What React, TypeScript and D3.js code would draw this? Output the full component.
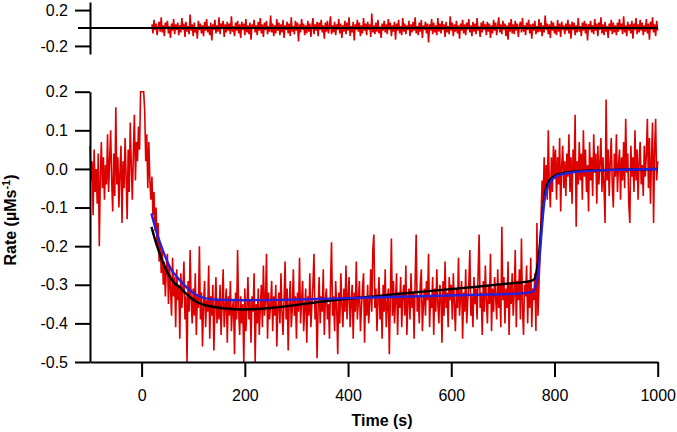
import React, { useEffect, useRef } from "react";
import * as d3 from "d3";

// sampled trace: one value every 2 s from -100 s to 1000 s
const tStart = -100;
const tStep = 2;
const rate = [
  0.06, -0.03, 0.02, -0.12, 0.05, -0.06, 0.0, -0.09, 0.04, -0.2, -0.02, 0.07, -0.05, 0.03, -0.08, 0.01, -0.04, 0.09, -0.06, 0.02, 0.1, -0.03, -0.11, 0.04, -0.07,
  0.16, -0.04, 0.03, -0.1, -0.01, 0.06, -0.14, 0.02, -0.05, 0.08, -0.02, -0.13, 0.05, -0.06, 0.12, 0.01, -0.08, 0.04, 0.14, -0.03, 0.07, 0.02, 0.11, 0.05, 0.2,
  0.2, 0.2, 0.2, 0.15, 0.02, 0.09, -0.05, 0.07, -0.03, -0.08, -0.02, -0.12, -0.06, -0.16, -0.1, -0.2, -0.14, -0.24, -0.19, -0.27, -0.21, -0.3, -0.24, -0.33, -0.26,
  -0.22, -0.35, -0.25, -0.31, -0.38, -0.23, -0.33, -0.28, -0.41, -0.26, -0.34, -0.3, -0.44, -0.27, -0.36, -0.31, -0.24, -0.39, -0.33, -0.5, -0.29, -0.37, -0.21, -0.34, -0.4,
  -0.31, -0.38, -0.27, -0.43, -0.33, -0.36, -0.2, -0.39, -0.32, -0.46, -0.35, -0.29, -0.41, -0.34, -0.37, -0.25, -0.44, -0.33, -0.38, -0.3, -0.47, -0.36, -0.28, -0.4, -0.34,
  -0.39, -0.3, -0.43, -0.35, -0.26, -0.41, -0.36, -0.31, -0.45, -0.33, -0.38, -0.29, -0.42, -0.36, -0.34, -0.48, -0.32, -0.39, -0.21, -0.37, -0.43, -0.33, -0.4, -0.35, -0.5,
  -0.31, -0.42, -0.36, -0.28, -0.39, -0.34, -0.45, -0.33, -0.37, -0.27, -0.5, -0.35, -0.4, -0.31, -0.43, -0.36, -0.3, -0.41, -0.25, -0.38, -0.34, -0.22, -0.44, -0.32, -0.39,
  -0.35, -0.29, -0.42, -0.33, -0.38, -0.3, -0.46, -0.36, -0.32, -0.4, -0.27, -0.37, -0.43, -0.34, -0.24, -0.39, -0.31, -0.47, -0.35, -0.29, -0.41, -0.36, -0.26, -0.38, -0.33,
  -0.44, -0.32, -0.37, -0.23, -0.4, -0.34, -0.29, -0.42, -0.36, -0.31, -0.45, -0.33, -0.38, -0.27, -0.41, -0.35, -0.3, -0.22, -0.39, -0.34, -0.49, -0.36, -0.28, -0.4, -0.33,
  -0.37, -0.26, -0.43, -0.34, -0.31, -0.39, -0.35, -0.44, -0.3, -0.19, -0.38, -0.33, -0.42, -0.29, -0.36, -0.48, -0.32, -0.4, -0.27, -0.35, -0.41, -0.31, -0.37, -0.25, -0.39,
  -0.33, -0.28, -0.41, -0.35, -0.3, -0.44, -0.32, -0.37, -0.24, -0.39, -0.34, -0.29, -0.42, -0.36, -0.31, -0.27, -0.45, -0.33, -0.38, -0.3, -0.4, -0.35, -0.26, -0.37, -0.21,
  -0.17, -0.36, -0.31, -0.42, -0.34, -0.28, -0.39, -0.33, -0.44, -0.3, -0.37, -0.26, -0.41, -0.35, -0.31, -0.48, -0.33, -0.18, -0.38, -0.29, -0.4, -0.34, -0.27, -0.43, -0.32,
  -0.36, -0.28, -0.41, -0.33, -0.3, -0.38, -0.25, -0.43, -0.34, -0.31, -0.39, -0.27, -0.36, -0.32, -0.44, -0.29, -0.17, -0.37, -0.33, -0.4, -0.3, -0.26, -0.42, -0.35, -0.31,
  -0.38, -0.29, -0.34, -0.22, -0.41, -0.33, -0.36, -0.28, -0.43, -0.31, -0.37, -0.26, -0.35, -0.4, -0.3, -0.33, -0.45, -0.29, -0.38, -0.24, -0.36, -0.32, -0.41, -0.28, -0.34,
  -0.3, -0.39, -0.27, -0.35, -0.42, -0.31, -0.36, -0.23, -0.38, -0.33, -0.29, -0.44, -0.32, -0.37, -0.26, -0.4, -0.34, -0.3, -0.21, -0.38, -0.33, -0.41, -0.28, -0.35, -0.31,
  -0.39, -0.27, -0.17, -0.36, -0.32, -0.43, -0.29, -0.37, -0.25, -0.34, -0.4, -0.3, -0.35, -0.22, -0.42, -0.31, -0.37, -0.28, -0.33, -0.39, -0.26, -0.36, -0.3, -0.41, -0.15,
  -0.34, -0.28, -0.4, -0.31, -0.36, -0.24, -0.43, -0.3, -0.35, -0.27, -0.38, -0.32, -0.21, -0.41, -0.29, -0.34, -0.26, -0.39, -0.18, -0.36, -0.43, -0.3, -0.33, -0.25, -0.4,
  -0.29, -0.36, -0.23, -0.41, -0.31, -0.34, -0.27, -0.42, -0.14, -0.38, -0.3, -0.22, -0.12, -0.03, -0.09, 0.03, -0.06, 0.01, -0.08, 0.1, -0.04, -0.1, 0.03, -0.06, 0.06,
  -0.02, 0.05, -0.08, 0.03, -0.04, 0.08, -0.11, 0.01, 0.06, -0.05, 0.02, -0.07, 0.04, -0.02, 0.09, -0.06, 0.03, -0.09, 0.05, -0.01, 0.14, -0.15, 0.02, -0.04, 0.07,
  -0.03, 0.04, -0.08, 0.1, -0.02, 0.05, -0.06, 0.01, -0.11, 0.07, -0.03, 0.03, -0.07, 0.09, -0.01, 0.04, -0.09, 0.06, -0.04, 0.02, 0.08, -0.06, 0.03, -0.05, -0.14,
  0.18, -0.03, 0.05, -0.07, 0.02, 0.08, -0.04, -0.1, 0.04, -0.02, 0.09, -0.06, 0.01, 0.05, -0.08, 0.03, -0.03, 0.07, -0.05, 0.13, -0.01, 0.04, -0.09, -0.14, 0.06,
  -0.02, 0.03, -0.06, 0.1, -0.03, 0.05, -0.08, 0.02, 0.07, -0.04, 0.01, -0.07, 0.06, -0.02, 0.04, 0.13, -0.05, 0.08, -0.09, 0.03, 0.12, -0.14, 0.05, 0.13, -0.03,
  0.02,
];

// residuals of the fit, one value every 2 s from 20 s to 1000 s
const resStart = 20;
const residual = [
  0.04, -0.06, 0.09, -0.02, 0.05, -0.08, 0.01, 0.07, -0.04, 0.12, -0.05, 0.03, -0.09, 0.06, -0.01, 0.08, -0.06, 0.02, -0.11, 0.05, -0.03, 0.1, -0.07, 0.04, -0.02,
  0.06, -0.08, 0.03, -0.05, 0.11, -0.02, 0.05, -0.1, 0.07, -0.04, 0.02, -0.07, 0.15, -0.03, 0.04, -0.09, 0.06, -0.05, 0.01, -0.12, 0.08, -0.02, 0.05, -0.06, 0.03,
  -0.09, 0.07, -0.03, 0.1, -0.05, 0.02, -0.08, 0.06, -0.14, 0.04, -0.02, 0.09, -0.06, 0.03, -0.04, 0.12, -0.07, 0.05, -0.01, 0.08, -0.1, 0.04, -0.05, 0.07, -0.03,
  0.05, -0.07, 0.13, -0.04, 0.02, -0.09, 0.06, -0.03, 0.08, -0.06, 0.04, -0.11, 0.07, -0.02, 0.05, -0.08, 0.1, -0.05, 0.03, -0.07, 0.06, -0.13, 0.04, -0.01, 0.09,
  -0.05, 0.03, -0.08, 0.07, -0.03, 0.11, -0.06, 0.04, -0.1, 0.06, -0.02, 0.08, -0.07, 0.02, -0.04, 0.14, -0.05, 0.05, -0.09, 0.03, -0.06, 0.1, -0.03, 0.06, -0.08,
  0.04, -0.05, 0.09, -0.11, 0.03, -0.02, 0.07, -0.06, 0.05, -0.09, 0.12, -0.04, 0.02, -0.07, 0.08, -0.03, 0.06, -0.15, 0.04, -0.05, 0.1, -0.02, 0.05, -0.08, 0.03,
  -0.06, 0.08, -0.04, 0.05, -0.1, 0.02, 0.11, -0.07, 0.04, -0.03, 0.07, -0.09, 0.06, -0.02, 0.09, -0.05, 0.03, -0.12, 0.06, -0.04, 0.08, -0.06, 0.02, 0.13, -0.07,
  0.03, -0.05, 0.07, -0.08, 0.04, -0.02, 0.1, -0.06, 0.05, -0.11, 0.03, -0.04, 0.08, -0.07, 0.06, -0.03, 0.12, -0.09, 0.02, -0.05, 0.07, -0.14, 0.04, -0.02, 0.09,
  -0.04, 0.06, -0.09, 0.03, -0.06, 0.11, -0.03, 0.05, -0.08, 0.07, -0.02, 0.04, -0.1, 0.16, -0.05, 0.03, -0.07, 0.06, -0.04, 0.09, -0.06, 0.02, -0.11, 0.05, -0.03,
  0.08, -0.05, 0.04, -0.07, 0.1, -0.02, 0.06, -0.09, 0.03, -0.04, 0.07, -0.13, 0.05, -0.03, 0.09, -0.06, 0.02, -0.08, 0.11, -0.04, 0.05, -0.07, 0.03, -0.02, 0.08,
  -0.09, 0.04, -0.05, 0.07, -0.03, 0.12, -0.06, 0.02, -0.08, 0.06, -0.04, 0.09, -0.11, 0.03, -0.02, 0.07, -0.06, 0.05, -0.16, 0.04, -0.03, 0.1, -0.07, 0.06, -0.05,
  0.03, -0.08, 0.11, -0.04, 0.05, -0.06, 0.08, -0.02, 0.04, -0.1, 0.07, -0.05, 0.02, -0.07, 0.13, -0.03, 0.06, -0.09, 0.04, -0.04, 0.08, -0.06, 0.03, -0.12, 0.05,
  -0.03, 0.09, -0.06, 0.04, -0.08, 0.06, -0.02, 0.1, -0.05, 0.03, -0.09, 0.07, -0.04, 0.05, -0.07, 0.11, -0.03, 0.02, -0.1, 0.06, -0.05, 0.08, -0.02, 0.04, -0.08,
  0.07, -0.04, 0.05, -0.11, 0.03, -0.06, 0.09, -0.03, 0.06, -0.08, 0.02, 0.12, -0.05, 0.04, -0.07, 0.08, -0.02, 0.05, -0.09, 0.03, -0.13, 0.06, -0.04, 0.1, -0.06,
  0.04, -0.07, 0.08, -0.03, 0.05, -0.1, 0.02, 0.07, -0.05, 0.11, -0.04, 0.03, -0.08, 0.06, -0.02, 0.09, -0.06, 0.04, -0.12, 0.05, -0.03, 0.08, -0.07, 0.02, -0.05,
  0.1, -0.04, 0.06, -0.09, 0.03, -0.05, 0.14, -0.02, 0.05, -0.07, 0.04, -0.11, 0.08, -0.03, 0.06, -0.06, 0.02, -0.08, 0.09, -0.04, 0.05, -0.1, 0.07, -0.02, 0.03,
  -0.07, 0.05, -0.03, 0.09, -0.06, 0.04, -0.12, 0.07, -0.02, 0.06, -0.08, 0.03, -0.05, 0.11, -0.04, 0.02, -0.09, 0.06, -0.03, 0.08, -0.06, 0.05, -0.14, 0.04, -0.02,
  0.08, -0.05, 0.03, -0.07, 0.1, -0.03, 0.05, -0.09, 0.06, -0.02, 0.12, -0.06, 0.04, -0.08, 0.07, -0.04, 0.02, -0.11, 0.05, -0.03, 0.09, -0.07, 0.06, -0.05, 0.03,
  -0.08, 0.06, -0.04, 0.1, -0.02, 0.05, -0.07, 0.13, -0.05, 0.03, -0.09, 0.07, -0.03, 0.04, -0.06, 0.08, -0.12, 0.05, -0.02, 0.11, -0.07, 0.04, -0.05, 0.09, -0.03,
  0.06, -0.08, 0.03, -0.04, 0.1, -0.06, 0.05, -0.13, 0.07, -0.02, 0.12, -0.05, 0.04, -0.09, 0.08, -0.03,
];

// fit curves (knots)
const blackFitT = [19, 30, 42, 50, 60, 74, 80, 106, 138, 160, 200, 250, 300, 365, 450, 550, 650, 694, 755, 762, 766, 770, 774, 778, 782, 790, 805, 830, 870, 930, 1000];
const blackFitV = [-0.15, -0.2, -0.244, -0.268, -0.29, -0.307, -0.315, -0.344, -0.357, -0.361, -0.364, -0.36, -0.352, -0.341, -0.33, -0.317, -0.305, -0.299, -0.29, -0.284, -0.26, -0.22, -0.16, -0.1, -0.06, -0.03, -0.015, -0.008, -0.004, -0.002, 0];
const blueFitT = [19, 30, 42, 55, 74, 90, 106, 138, 200, 268, 365, 500, 650, 740, 758, 763, 767, 770, 774, 778, 782, 791, 805, 830, 870, 930, 1000];
const blueFitV = [-0.115, -0.168, -0.214, -0.255, -0.288, -0.31, -0.326, -0.338, -0.34, -0.339, -0.336, -0.331, -0.326, -0.322, -0.318, -0.305, -0.28, -0.25, -0.18, -0.115, -0.07, -0.037, -0.018, -0.01, -0.005, -0.002, 0];

const xTicks = [0, 200, 400, 600, 800, 1000];
const yTicks = [0.2, 0.1, 0.0, -0.1, -0.2, -0.3, -0.4, -0.5];
const resTicks = [0.2, -0.2];

const FONT = "'Liberation Sans', Arial, Helvetica, sans-serif";
const RED = "#dd0000";
const BLUE = "#2a1fd6";

export default function App() {
  const xAxisRef = useRef<SVGGElement>(null);
  const yAxisRef = useRef<SVGGElement>(null);
  const rAxisRef = useRef<SVGGElement>(null);

  const x = d3.scaleLinear().domain([-100, 1000]).range([90, 657.7]);
  const y = d3.scaleLinear().domain([-0.5, 0.2]).range([362, 91.7]);
  const yr = d3.scaleLinear().domain([-0.29, 0.29]).range([54, 2]);

  useEffect(() => {
    const fmt = (d: any) => (+d).toFixed(1);
    const style = (g: any) => {
      g.attr("font-size", 16).attr("font-family", FONT);
      g.selectAll("path, line").attr("stroke", "#000").attr("stroke-width", 2);
      g.selectAll("text").attr("fill", "#000");
    };
    d3.select(xAxisRef.current)
      .call(d3.axisBottom(x).tickValues(xTicks).tickSize(15).tickSizeOuter(0).tickPadding(13).tickFormat(d3.format("d")) as any)
      .call(style);
    d3.select(yAxisRef.current)
      .call(d3.axisLeft(y).tickValues(yTicks).tickSize(15).tickSizeOuter(0).tickPadding(7).tickFormat(fmt) as any)
      .call(style);
    d3.select(rAxisRef.current)
      .call(d3.axisLeft(yr).tickValues(resTicks).tickSize(15).tickSizeOuter(0).tickPadding(7).tickFormat(fmt) as any)
      .call(style);
  }, []);

  const line = d3.line<number>()
    .x((_, i) => x(tStart + i * tStep))
    .y((d) => y(d));
  const resLine = d3.line<number>()
    .x((_, i) => x(resStart + i * tStep))
    .y((d) => yr(d));
  const fitLine = d3.line<[number, number]>()
    .x((d) => x(d[0]))
    .y((d) => y(d[1]))
    .curve(d3.curveMonotoneX);

  const blackFit = blackFitT.map((t, i) => [t, blackFitV[i]] as [number, number]);
  const blueFit = blueFitT.map((t, i) => [t, blueFitV[i]] as [number, number]);

  return (
    <svg width={677} height={432} style={{ position: "absolute", left: 0, top: 0, background: "#fff" }}>
      {/* residual panel */}
      <path d={resLine(residual) || ""} fill="none" stroke={RED} strokeWidth={1.6} strokeLinejoin="miter" />
      <line x1={78} x2={x(1000)} y1={yr(0)} y2={yr(0)} stroke="#000" strokeWidth={2} />
      <g ref={rAxisRef} transform="translate(90,0)" />

      {/* main panel */}
      <path d={line(rate) || ""} fill="none" stroke={RED} strokeWidth={1.6} strokeLinejoin="miter" />
      <path d={fitLine(blackFit) || ""} fill="none" stroke="#000" strokeWidth={2.4} />
      <path d={fitLine(blueFit) || ""} fill="none" stroke={BLUE} strokeWidth={2.4} />
      <g ref={xAxisRef} transform="translate(0,362)" />
      <g ref={yAxisRef} transform="translate(90,0)" />

      <text x={382} y={426} textAnchor="middle" fontFamily={FONT} fontSize={16} fontWeight="bold">Time (s)</text>
      <text transform="translate(16,220) rotate(-90)" textAnchor="middle" fontFamily={FONT} fontSize={16} fontWeight="bold">
        Rate (µMs<tspan fontSize={11} dy={-6}>-1</tspan><tspan dy={6}>)</tspan>
      </text>
    </svg>
  );
}
